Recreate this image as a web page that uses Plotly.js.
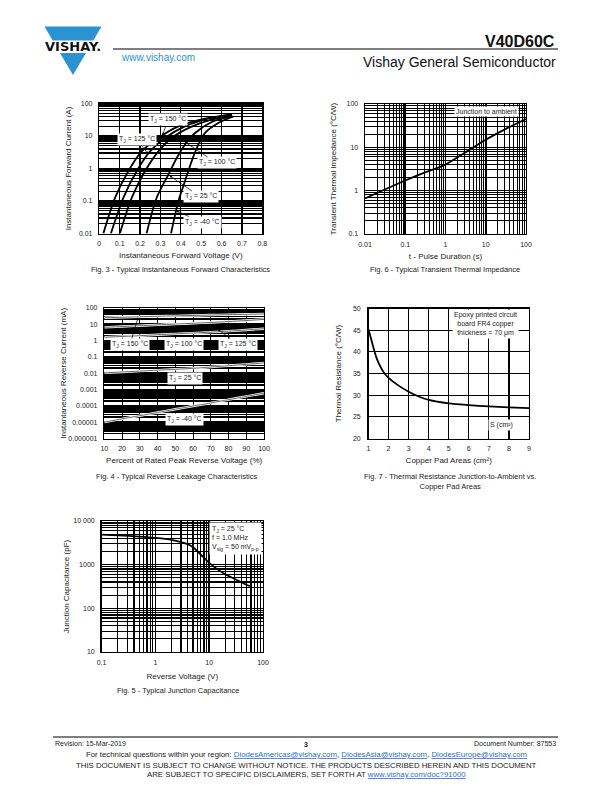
<!DOCTYPE html>
<html><head><meta charset="utf-8">
<script src="https://cdn.plot.ly/plotly-3.0.1.min.js"></script>
<style>html,body{margin:0;padding:0;background:#fff}#chart{width:612px;height:792px}</style>
</head><body><div id="chart"></div>
<script>
// ---------- Fig. 3 : forward characteristics ----------
const fwdTickVals = [0, 0.1, 0.2, 0.3, 0.4, 0.5, 0.6, 0.7, 0.8];
const fwdTickText = ['0', '0.1', '0.2', '0.3', '0.4', '0.5', '0.6', '0.7', '0.8'];
const fwdITickVals = [0.01, 0.1, 1, 10, 100];
const fwdITickText = ['0.01', '0.1', '1', '10', '100'];
const fwdV150 = [0.02, 0.077, 0.142, 0.208, 0.29, 0.388, 0.519, 0.65];
const fwdI150 = [0.01, 0.124, 0.82, 3.37, 8.7, 19.8, 34, 47];
const fwdV125 = [0.057, 0.118, 0.183, 0.249, 0.322, 0.42, 0.535, 0.65];
const fwdI125 = [0.01, 0.124, 0.82, 3.37, 8.7, 19.8, 34, 45];
const fwdV100 = [0.101, 0.159, 0.224, 0.29, 0.355, 0.445, 0.552, 0.65];
const fwdI100 = [0.01, 0.124, 0.82, 3.37, 8.7, 18.5, 31.8, 43];
const fwdV25 = [0.232, 0.281, 0.339, 0.38, 0.42, 0.47, 0.552, 0.65];
const fwdI25 = [0.01, 0.124, 0.65, 2.1, 5.4, 12.4, 27, 40];
const fwdVm40 = [0.352, 0.388, 0.42, 0.453, 0.486, 0.519, 0.584, 0.658];
const fwdIm40 = [0.01, 0.098, 0.40, 1.66, 5.4, 12.4, 25, 40];

// ---------- Fig. 6 : transient thermal impedance ----------
const zthTickVals = [0.01, 0.1, 1, 10, 100];
const zthTickText = ['0.01', '0.1', '1', '10', '100'];
const zthYTickVals = [0.1, 1, 10, 100];
const zthYTickText = ['0.1', '1', '10', '100'];
const zthT = [0.01, 0.03, 0.1, 0.3, 1, 3, 10, 30, 100];
const zthZ = [0.66, 1.05, 1.72, 2.6, 4.0, 7.5, 15, 26, 45];

// ---------- Fig. 4 : reverse leakage ----------
const pctTickVals = [10, 20, 30, 40, 50, 60, 70, 80, 90, 100];
const pctTickText = ['10', '20', '30', '40', '50', '60', '70', '80', '90', '100'];
const irTickVals = [0.000001, 0.00001, 0.0001, 0.001, 0.01, 0.1, 1, 10, 100];
const irTickText = ['0.000001', '0.00001', '0.0001', '0.001', '0.01', '0.1', '1', '10', '100'];
const pctV = [10, 20, 30, 40, 50, 60, 70, 80, 90, 100];
const ir150 = [25, 27, 29, 31, 33, 35, 37, 39, 41, 43];
const ir125 = [6.5, 7.3, 8.2, 9.2, 10.3, 11.6, 13, 14.8, 17, 20];
const ir100 = [1.6, 1.8, 2.0, 2.3, 2.6, 2.9, 3.3, 3.8, 4.5, 5.4];
const ir25 = [0.0105, 0.012, 0.0135, 0.0155, 0.0175, 0.02, 0.024, 0.029, 0.035, 0.043];
const irm40 = [0.00001, 0.000016, 0.000025, 0.000039, 0.000062, 0.000098, 0.00015, 0.00024, 0.00038, 0.0006];

// ---------- Fig. 7 : thermal resistance vs copper area ----------
const areaTickVals = [1, 2, 3, 4, 5, 6, 7, 8, 9];
const areaTickText = ['1', '2', '3', '4', '5', '6', '7', '8', '9'];
const rthTickVals = [20, 25, 30, 35, 40, 45, 50];
const rthTickText = ['20', '25', '30', '35', '40', '45', '50'];
const padArea = [1, 1.1, 1.25, 1.4, 1.58, 1.8, 2, 2.5, 3, 3.5, 4, 5, 6, 7, 8, 9];
const thermRes = [45.2, 43.5, 40.9, 38.6, 36.7, 35, 34, 32.2, 30.8, 29.7, 28.9, 28.1, 27.7, 27.4, 27.2, 27.0];

// ---------- Fig. 5 : junction capacitance ----------
const capXTickVals = [0.1, 1, 10, 100];
const capXTickText = ['0.1', '1', '10', '100'];
const capYTickVals = [10, 100, 1000, 10000];
const capYTickText = ['10', '100', '1000', '10 000'];
const capV = [0.1, 0.2, 0.5, 1, 2, 3, 4, 5, 7, 10, 15, 20, 30, 40, 57];
const capC = [4900, 4700, 4400, 4100, 3700, 3300, 2950, 2500, 1700, 1100, 750, 600, 470, 390, 320];

// ---------- layout helpers ----------
const W = 612, H = 792;
const FONT = 'Liberation Sans, Arial, Helvetica, sans-serif';
const TXT = '#222';
const px = x => x / W;
const py = y => 1 - y / H;
const SUB = s => '<span style="font-size:5px;baseline-shift:-1.6px">' + s + '</span>';
function logMinor(lo, hi) {
  const v = [];
  for (let e = lo; e < hi; e++) for (let k = 2; k <= 9; k++) v.push(parseFloat((k * Math.pow(10, e)).toPrecision(3)));
  return v;
}
function mkAxis(o) {
  return Object.assign({
    showline: true, linecolor: '#000', linewidth: 1.4, mirror: true,
    ticks: '', showgrid: true, gridcolor: '#000', gridwidth: 1.2, zeroline: false,
    tickfont: {family: FONT, size: 7, color: TXT}, fixedrange: true, automargin: false,
    tickmode: 'array', layer: 'below traces'
  }, o);
}
function ttl(text, standoff) {
  return {text: text, font: {family: FONT, size: 8, color: TXT}, standoff: standoff};
}
function minorLog(lo, hi, w) {
  return {tickmode: 'array', tickvals: logMinor(lo, hi), showgrid: true, gridcolor: '#000', gridwidth: w, ticks: ''};
}

// plot rectangles (pixels)
const R3 = {l: 99.3, r: 262.3, t: 103.5, b: 233.5};
const R6 = {l: 365, r: 526, t: 104, b: 234};
const R4 = {l: 104.3, r: 264, t: 308, b: 438.5};
const R7 = {l: 368.5, r: 529, t: 308.5, b: 438.5};
const R5 = {l: 101.5, r: 263, t: 521, b: 652};
const dom = R => ({x: [px(R.l), px(R.r)], y: [py(R.b), py(R.t)]});

const layout = {
  width: W, height: H, margin: {l: 0, r: 0, t: 0, b: 0},
  paper_bgcolor: '#fff', plot_bgcolor: '#fff', showlegend: false,
  font: {family: FONT, color: TXT, size: 7},
  xaxis: mkAxis({domain: dom(R3).x, anchor: 'y', range: [0, 0.8], tickvals: fwdTickVals, ticktext: fwdTickText,
    gridwidth: 1.2, ticklabelstandoff: 3, title: ttl('Instantaneous Forward Voltage (V)', 6)}),
  yaxis: mkAxis({domain: dom(R3).y, anchor: 'x', type: 'log', range: [-2, 2], tickvals: fwdITickVals, ticktext: fwdITickText,
    gridwidth: 1.4, minor: minorLog(-2, 2, 1.4), ticklabelstandoff: 4, title: ttl('Instantaneous Forward Current (A)', 6)}),
  xaxis2: mkAxis({domain: dom(R6).x, anchor: 'y2', type: 'log', range: [-2, 2], tickvals: zthTickVals, ticktext: zthTickText,
    gridwidth: 1.6, minor: minorLog(-2, 2, 1), ticklabelstandoff: 3, title: ttl('t - Pulse Duration (s)', 6)}),
  yaxis2: mkAxis({domain: dom(R6).y, anchor: 'x2', type: 'log', range: [-1, 2], tickvals: zthYTickVals, ticktext: zthYTickText,
    gridwidth: 1.6, minor: minorLog(-1, 2, 1), ticklabelstandoff: 4, title: ttl('Transient Thermal Impedance (°C/W)', 8)}),
  xaxis3: mkAxis({domain: dom(R4).x, anchor: 'y3', range: [10, 100], tickvals: pctTickVals, ticktext: pctTickText,
    gridwidth: 1, ticklabelstandoff: 3, title: ttl('Percent of Rated Peak Reverse Voltage (%)', 6)}),
  yaxis3: mkAxis({domain: dom(R4).y, anchor: 'x3', type: 'log', range: [-6, 2], tickvals: irTickVals, ticktext: irTickText,
    gridwidth: 1.8, minor: minorLog(-6, 2, 1.8), ticklabelstandoff: 4, title: ttl('Instantaneous Reverse Current (mA)', 0)}),
  xaxis4: mkAxis({domain: dom(R7).x, anchor: 'y4', range: [1, 9], tickvals: areaTickVals, ticktext: areaTickText,
    gridwidth: 1.2, ticklabelstandoff: 3, title: ttl('Copper Pad Areas (cm²)', 6)}),
  yaxis4: mkAxis({domain: dom(R7).y, anchor: 'x4', range: [20, 50], tickvals: rthTickVals, ticktext: rthTickText,
    gridwidth: 1.2, ticklabelstandoff: 5, title: ttl('Thermal Resistance (°C/W)', 10)}),
  xaxis5: mkAxis({domain: dom(R5).x, anchor: 'y5', type: 'log', range: [-1, 2], tickvals: capXTickVals, ticktext: capXTickText,
    gridwidth: 1.4, minor: minorLog(-1, 2, 1.2), ticklabelstandoff: 3, title: ttl('Reverse Voltage (V)', 8)}),
  yaxis5: mkAxis({domain: dom(R5).y, anchor: 'x5', type: 'log', range: [1, 4], tickvals: capYTickVals, ticktext: capYTickText,
    gridwidth: 1.4, minor: minorLog(1, 4, 1.2), ticklabelstandoff: 4, title: ttl('Junction Capacitance (pF)', 2)}),
  shapes: [], annotations: []
};

// ---------- traces ----------
const traces = [];
function line(xs, ys, xa, ya, w, color, shape) {
  traces.push({type: 'scatter', mode: 'lines', x: xs, y: ys, xaxis: xa, yaxis: ya,
    line: {color: color || '#000', width: w || 1.8, shape: shape || 'spline', smoothing: 0.8},
    hoverinfo: 'skip', showlegend: false, cliponaxis: true});
}
line(fwdV150, fwdI150, 'x', 'y', 1.8);
line(fwdV125, fwdI125, 'x', 'y', 1.8);
line(fwdV100, fwdI100, 'x', 'y', 1.8);
line(fwdV25, fwdI25, 'x', 'y', 1.8);
line(fwdVm40, fwdIm40, 'x', 'y', 1.8);
line(zthT, zthZ, 'x2', 'y2', 1.8);
[ir150, ir125, ir100, ir25, irm40].forEach(s => {
  line(pctV, s, 'x3', 'y3', 2.4, '#fff');
  line(pctV, s, 'x3', 'y3', 0.9, '#555');
});
line(padArea, thermRes, 'x4', 'y4', 1.8);
line(capV, capC, 'x5', 'y5', 1.8);

// ---------- annotations ----------
const A = layout.annotations;
function note(text, x, y, o) {
  A.push(Object.assign({text: text, xref: 'paper', yref: 'paper', x: px(x), y: py(y), showarrow: false,
    xanchor: 'center', yanchor: 'middle', font: {family: FONT, size: 7, color: TXT}}, o || {}));
}
function boxNote(text, x, y, o) {
  note(text, x, y, Object.assign({bgcolor: '#fff', borderpad: 1}, o || {}));
}
const X3 = v => R3.l + v / 0.8 * (R3.r - R3.l);
const Y3 = i => R3.t + (2 - Math.log10(i)) / 4 * (R3.b - R3.t);
const X4 = p => R4.l + (p - 10) / 90 * (R4.r - R4.l);
const Y4 = i => R4.t + (2 - Math.log10(i)) / 8 * (R4.b - R4.t);
function arrowNote(text, tx, ty, hx, hy, xa, ya, Xf, Yf) {
  A.push({text: text, xref: xa, yref: ya, x: hx, y: Math.log10(hy), showarrow: true,
    ax: tx - Xf(hx), ay: ty - Yf(hy), arrowhead: 2, arrowsize: 0.7, arrowwidth: 0.7, arrowcolor: '#000',
    standoff: 0, bgcolor: '#fff', borderpad: 1, font: {family: FONT, size: 7, color: TXT}});
}
const TJ = 'T' + SUB('J');
arrowNote(TJ + ' = 150 °C', 168, 120, 0.31, 10.5, 'x', 'y', X3, Y3);
arrowNote(TJ + ' = 125 °C', 136.7, 139.5, 0.24, 2.8, 'x', 'y', X3, Y3);
arrowNote(TJ + ' = 100 °C', 216.7, 163, 0.375, 10, 'x', 'y', X3, Y3);
arrowNote(TJ + ' = 25 °C', 200.7, 197, 0.345, 0.6, 'x', 'y', X3, Y3);
arrowNote(TJ + ' = -40 °C', 202, 222.5, 0.378, 0.05, 'x', 'y', X3, Y3);

arrowNote(TJ + ' = 150 °C', 130, 344.5, 29, 25.4, 'x3', 'y3', X4, Y4);
boxNote(TJ + ' = 100 °C', 184, 344.5);
arrowNote(TJ + ' = 125 °C', 238.5, 344.5, 74, 4.8, 'x3', 'y3', X4, Y4);
boxNote(TJ + ' = 25 °C', 185, 378);
boxNote(TJ + ' = -40 °C', 184, 419.5);

boxNote('Junction to ambient', 487, 111.7);
boxNote('Epoxy printed circuit<br>board FR4 copper<br>thickness = 70 μm', 485, 324, {align: 'center'});
boxNote('S (cm²)', 501, 425);
boxNote(TJ + ' = 25 °C<br>f = 1.0 MHz<br>V' + SUB('sig') + ' = 50 mV' + SUB('p-p'), 209, 538, {xanchor: 'left', align: 'left', borderpad: 2});

// captions
const CAP = {family: FONT, size: 7.5, color: TXT};
note('Fig. 3 - Typical Instantaneous Forward Characteristics', 180, 270, {font: CAP});
note('Fig. 6 - Typical Transient Thermal Impedance', 445, 270, {font: CAP});
note('Fig. 4 - Typical Reverse Leakage Characteristics', 176, 476, {font: CAP});
note('Fig. 7 - Thermal Resistance Junction-to-Ambient vs.<br>Copper Pad Areas', 450, 481, {font: CAP});
note('Fig. 5 - Typical Junction Capacitance', 178, 690, {font: CAP});

// header
const BLUE = '#2b93d1';
function pathPx(pts) {
  return 'M ' + pts.map(p => px(p[0]) + ' ' + py(p[1])).join(' L ') + ' Z';
}
layout.shapes.push({type: 'path', xref: 'paper', yref: 'paper', path: pathPx([[44.5, 26.5], [101.5, 26.5], [93.3, 40.5], [52.7, 40.5]]), fillcolor: BLUE, line: {width: 0}});
layout.shapes.push({type: 'path', xref: 'paper', yref: 'paper', path: pathPx([[60, 53], [86, 53], [73, 75]]), fillcolor: BLUE, line: {width: 0}});
note('VISHAY.', 73, 46.8, {font: {family: 'DejaVu Sans', size: 13, color: '#111', weight: 'bold'}});
layout.shapes.push({type: 'line', xref: 'paper', yref: 'paper', x0: px(113), x1: px(558), y0: py(49), y1: py(49), line: {color: '#000', width: 1}});
note('V40D60C', 557, 41, {xanchor: 'right', font: {family: FONT, size: 16, color: '#111', weight: 'bold'}});
note('www.vishay.com', 119, 58, {xanchor: 'left', font: {family: FONT, size: 10, color: BLUE}});
note('Vishay General Semiconductor', 558, 62, {xanchor: 'right', font: {family: FONT, size: 14, color: '#111'}});

// footer
layout.shapes.push({type: 'line', xref: 'paper', yref: 'paper', x0: px(53), x1: px(558), y0: py(737), y1: py(737), line: {color: '#000', width: 1}});
const FT = {family: FONT, size: 7, color: TXT};
const FT2 = {family: FONT, size: 7.8, color: TXT};
note('Revision: 15-Mar-2019', 53, 743, {xanchor: 'left', font: FT});
note('3', 306, 744, {font: {family: FONT, size: 7, color: TXT, weight: 'bold'}});
note('Document Number: 87553', 558, 743, {xanchor: 'right', font: FT});
const LINK = s => '<span style="color:#1f6fd0;text-decoration:underline">' + s + '</span>';
note('For technical questions within your region: ' + LINK('DiodesAmericas@vishay.com') + ', ' + LINK('DiodesAsia@vishay.com') + ', ' + LINK('DiodesEurope@vishay.com'), 306, 754, {font: FT2});
note('THIS DOCUMENT IS SUBJECT TO CHANGE WITHOUT NOTICE. THE PRODUCTS DESCRIBED HEREIN AND THIS DOCUMENT', 306, 765, {font: FT2});
note('ARE SUBJECT TO SPECIFIC DISCLAIMERS, SET FORTH AT ' + LINK('www.vishay.com/doc?91000'), 306, 774, {font: FT2});

Plotly.newPlot('chart', traces, layout, {staticPlot: true, displayModeBar: false});
</script>
</body></html>
